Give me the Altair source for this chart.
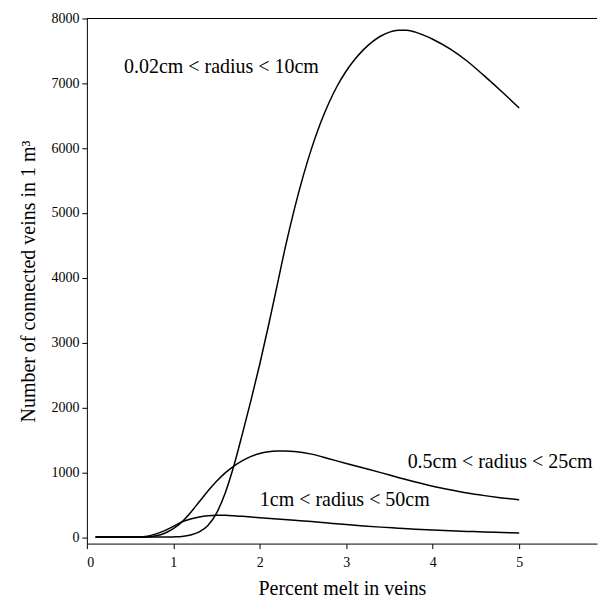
import altair as alt
import pandas as pd

# Series: 0.02cm < radius < 10cm
a_x = [0.1, 0.5, 0.9, 1.0, 1.1, 1.2, 1.3, 1.4, 1.5, 1.6, 1.7, 1.8, 1.9, 2.0, 2.1, 2.2, 2.3, 2.4,
       2.5, 2.6, 2.7, 2.8, 2.9, 3.0, 3.1, 3.2, 3.3, 3.4, 3.5, 3.6, 3.7, 3.8, 3.9, 4.0, 4.2, 4.4,
       4.6, 4.8, 5.0]
a_y = [0, 0, 0, 3, 10, 32, 80, 180, 370, 680, 1100, 1600, 2120, 2670, 3260, 3880, 4500, 5060,
       5560, 6000, 6380, 6700, 6970, 7190, 7370, 7520, 7640, 7730, 7790, 7820, 7818, 7790, 7740,
       7680, 7530, 7340, 7110, 6870, 6620]

# Series: 0.5cm < radius < 25cm
b_x = [0.1, 0.6, 0.7, 0.8, 0.9, 1.0, 1.1, 1.2, 1.3, 1.4, 1.5, 1.6, 1.7, 1.8, 1.9, 2.0, 2.1, 2.2,
       2.3, 2.4, 2.6, 2.8, 3.0, 3.2, 3.4, 3.6, 3.8, 4.0, 4.2, 4.4, 4.6, 4.8, 5.0]
b_y = [0, 0, 3, 20, 60, 130, 235, 380, 545, 710, 860, 990, 1095, 1180, 1245, 1290, 1315, 1327,
       1330, 1322, 1280, 1210, 1135, 1065, 995, 920, 850, 785, 730, 680, 640, 605, 575]

# Series: 1cm < radius < 50cm
c_x = [0.1, 0.55, 0.7, 0.8, 0.9, 1.0, 1.1, 1.2, 1.3, 1.4, 1.5, 1.6, 1.7, 1.8, 2.0, 2.2, 2.4, 2.6,
       2.8, 3.0, 3.2, 3.4, 3.6, 3.8, 4.0, 4.2, 4.4, 4.6, 4.8, 5.0]
c_y = [0, 0, 15, 50, 100, 165, 235, 280, 310, 328, 336, 336, 330, 320, 300, 280, 260, 240,
       216, 193, 172, 154, 138, 122, 108, 97, 88, 79, 71, 63]

series_names = ["0.02cm < radius < 10cm", "0.5cm < radius < 25cm", "1cm < radius < 50cm"]

label_text = series_names
label_x = [0.43, 3.71, 2.0]
label_y = [7250, 1155, 565]

x_ticks = [0, 1, 2, 3, 4, 5]
y_ticks = [0, 1000, 2000, 3000, 4000, 5000, 6000, 7000, 8000]

rows = []
for name, xs, ys in zip(series_names, [a_x, b_x, c_x], [a_y, b_y, c_y]):
    for xv, yv in zip(xs, ys):
        rows.append({"series": name, "x": xv, "y": yv})
df = pd.DataFrame(rows)
labels_df = pd.DataFrame({"text": label_text, "x": label_x, "y": label_y})

FONT = "Liberation Serif"
W, H = 511, 526
xscale = alt.Scale(domain=[0, 5.9], nice=False, zero=False)
yscale = alt.Scale(domain=[-100, 8000], nice=False, zero=False)

lines = alt.Chart(df).mark_line(color="black", strokeWidth=1.5, interpolate="monotone").encode(
    x=alt.X("x:Q", scale=xscale,
            axis=alt.Axis(title="Percent melt in veins", values=x_ticks, format="d",
                          tickSize=5, labelPadding=7, titlePadding=9)),
    y=alt.Y("y:Q", scale=yscale,
            axis=alt.Axis(title="Number of connected veins in 1 m³", values=y_ticks, format="d",
                          tickSize=5, labelPadding=3, titlePadding=12)),
    detail="series:N",
)

labels = alt.Chart(labels_df).mark_text(
    align="left", baseline="middle", font=FONT, fontSize=20, color="black"
).encode(x="x:Q", y="y:Q", text="text:N")

top_rule = alt.Chart(pd.DataFrame({"y": [8000]})).mark_rule(color="black", strokeWidth=1).encode(
    y="y:Q", x=alt.value(0), x2=alt.value(W)
)

chart = alt.layer(lines, labels, top_rule).properties(
    width=W, height=H,
    padding={"left": 11, "top": 3, "right": 0, "bottom": 0},
).configure_axis(
    grid=False,
    domainColor="black",
    tickColor="black",
    labelColor="black",
    titleColor="black",
    labelFont=FONT,
    titleFont=FONT,
    labelFontSize=14,
    titleFontSize=20,
    titleFontWeight="normal",
    labelFontWeight="normal",
).configure_view(stroke=None)

chart.save("out.html", embed_options={"renderer": "svg", "actions": False})
